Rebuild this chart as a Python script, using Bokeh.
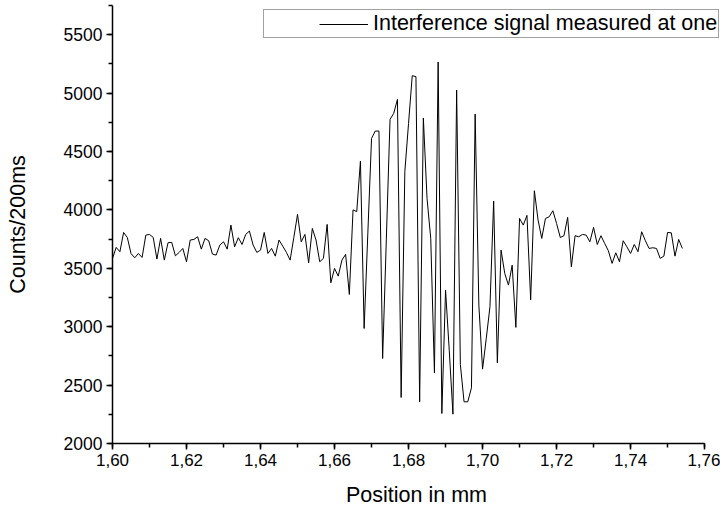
from bokeh.plotting import figure
from bokeh.models import (Range1d, SingleIntervalTicker, CustomJSTickFormatter,
                          Legend, LegendItem)
from bokeh.core.properties import value
from bokeh.embed import file_html
from bokeh.resources import INLINE

# ---- data ----
position_mm = [
    1.600, 1.601, 1.602, 1.603, 1.604, 1.605, 1.606, 1.607, 1.608, 1.609,
    1.610, 1.611, 1.612, 1.613, 1.614, 1.615, 1.616, 1.617, 1.618, 1.619,
    1.620, 1.621, 1.622, 1.623, 1.624, 1.625, 1.626, 1.627, 1.628, 1.629,
    1.630, 1.631, 1.632, 1.633, 1.634, 1.635, 1.636, 1.637, 1.638, 1.639,
    1.640, 1.641, 1.642, 1.643, 1.644, 1.645, 1.646, 1.647, 1.648, 1.649,
    1.650, 1.651, 1.652, 1.653, 1.654, 1.655, 1.656, 1.657, 1.658, 1.659,
    1.660, 1.661, 1.662, 1.663, 1.664, 1.665, 1.666, 1.667, 1.668, 1.669,
    1.670, 1.671, 1.672, 1.673, 1.674, 1.675, 1.676, 1.677, 1.678, 1.679,
    1.680, 1.681, 1.682, 1.683, 1.684, 1.685, 1.686, 1.687, 1.688, 1.689,
    1.690, 1.691, 1.692, 1.693, 1.694, 1.695, 1.696, 1.697, 1.698, 1.699,
    1.700, 1.701, 1.702, 1.703, 1.704, 1.705, 1.706, 1.707, 1.708, 1.709,
    1.710, 1.711, 1.712, 1.713, 1.714, 1.715, 1.716, 1.717, 1.718, 1.719,
    1.720, 1.721, 1.722, 1.723, 1.724, 1.725, 1.726, 1.727, 1.728, 1.729,
    1.730, 1.731, 1.732, 1.733, 1.734, 1.735, 1.736, 1.737, 1.738, 1.739,
    1.740, 1.741, 1.742, 1.743, 1.744, 1.745, 1.746, 1.747, 1.748, 1.749,
    1.750, 1.751, 1.752, 1.753, 1.754,
]

counts_per_200ms = [
    3585, 3679, 3642, 3807, 3764, 3627, 3590, 3627, 3593, 3784,
    3790, 3764, 3579, 3756, 3570, 3719, 3722, 3607, 3636, 3670,
    3556, 3742, 3747, 3770, 3664, 3756, 3736, 3622, 3613, 3699,
    3727, 3664, 3870, 3684, 3762, 3704, 3790, 3819, 3699, 3636,
    3656, 3807, 3627, 3670, 3604, 3742, 3690, 3636, 3570, 3764,
    3961, 3727, 3790, 3547, 3841, 3742, 3556, 3585, 3876, 3376,
    3499, 3433, 3570, 3619, 3276, 4000, 3985, 4418, 2985, 3800,
    4612, 4675, 4675, 2728, 3750, 4775, 4827, 4946, 2394, 4327,
    4740, 5149, 5141, 2357, 4787, 4098, 3756, 2605, 5266, 2257,
    3313, 2799, 2251, 5026, 2677, 2357, 2357, 2477, 4821, 3185,
    2637, 2899, 3171, 4076, 2691, 3656, 3456, 3356, 3527, 2994,
    3927, 3870, 3953, 3230, 4164, 3913, 3756, 3927, 3941, 3993,
    3884, 3764, 3779, 3936, 3513, 3779, 3770, 3790, 3784, 3727,
    3850, 3704, 3779, 3713, 3650, 3542, 3633, 3556, 3736, 3684,
    3627, 3704, 3642, 3813, 3736, 3670, 3676, 3670, 3585, 3604,
    3807, 3804, 3604, 3747, 3670,
]

legend_label = "Interference signal measured at one"
x_title = "Position in mm"
y_title = "Counts/200ms"

FONT = "Liberation Sans"

# frame spans x = 112..720; the visible axis stops at 1.76 (x = 704)
p = figure(width=720, height=511, output_backend="svg", toolbar_location=None,
           x_range=Range1d(1.60, 1.7643), y_range=Range1d(2000, 5750),
           min_border_left=112, min_border_right=0,
           min_border_top=5, min_border_bottom=68)

p.xgrid.visible = False
p.ygrid.visible = False
p.outline_line_color = None
p.background_fill_color = "white"
p.border_fill_color = "white"

xa = p.xaxis[0]
ya = p.yaxis[0]
xa.ticker = SingleIntervalTicker(interval=0.02, num_minor_ticks=2)
ya.ticker = SingleIntervalTicker(interval=500, num_minor_ticks=2)
xa.formatter = CustomJSTickFormatter(code="return tick.toFixed(2).replace('.', ',');")
xa.bounds = (1.60, 1.76)

for ax in (xa, ya):
    ax.axis_line_color = "black"
    ax.axis_line_width = 1.5
    ax.major_tick_line_color = "black"
    ax.minor_tick_line_color = "black"
    ax.major_tick_line_width = 1.5
    ax.minor_tick_line_width = 1.5
    ax.major_tick_in = 0
    ax.major_tick_out = 6
    ax.minor_tick_in = 0
    ax.minor_tick_out = 4
    ax.major_label_text_font = FONT
    ax.major_label_text_color = "black"
    ax.axis_label_text_font = FONT
    ax.axis_label_text_font_size = "21.5px"
    ax.axis_label_text_font_style = "normal"
    ax.axis_label_text_color = "black"
    ax.major_label_standoff = 4

xa.major_label_text_font_size = "17px"
ya.major_label_text_font_size = "17.5px"

xa.axis_label = x_title
ya.axis_label = y_title
xa.axis_label_standoff = 14
ya.axis_label_standoff = 31

r = p.line(position_mm, counts_per_200ms, line_color="black", line_width=1)
spacer = p.line(x=[], y=[], line_alpha=0)

legend = Legend(
    items=[LegendItem(label=value(""), renderers=[spacer]),
           LegendItem(label=value(legend_label), renderers=[r])],
    orientation="horizontal", location=(151, 405), margin=0,
    padding=1, spacing=0, glyph_width=49, glyph_height=20,
    label_height=20, label_width=0, label_standoff=5,
    label_text_font=FONT, label_text_font_size="21.5px",
    label_text_color="black",
    border_line_color="#444444", border_line_width=1.5,
    background_fill_color="white", background_fill_alpha=1.0,
)
p.add_layout(legend)

open("out.html", "w").write(file_html(p, INLINE))
